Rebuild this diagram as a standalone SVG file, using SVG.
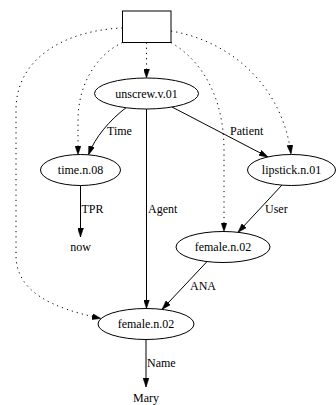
<svg xmlns="http://www.w3.org/2000/svg" width="336" height="405" viewBox="0 0 336 405">
  <style>
    .node { fill: #ffffff; stroke: #000000; stroke-width: 1; }
    .label { font-family: "Liberation Serif", "Times New Roman", serif; font-size: 12px; fill: #000000; }
    .center { text-anchor: middle; }
    .edge { fill: none; stroke: #000000; stroke-width: 1; marker-end: url(#arrow); }
    .dotted { stroke-dasharray: 1.2 4; }
  </style>
  <defs>
    <marker id="arrow" markerUnits="userSpaceOnUse" viewBox="0 0 9 6" refX="9" refY="3" markerWidth="9" markerHeight="6" orient="auto">
      <path d="M0,0 L9,3 L0,6 z" fill="#000000" stroke="#000000" stroke-width="0.5"/>
    </marker>
  </defs>
  <rect width="336" height="405" fill="#ffffff"/>

  <!-- connectors -->
  <g id="edges">
    <path class="edge dotted" d="M146.5,42.5 L146.5,78"/>
    <path class="edge dotted" d="M122.5,42.5 C96,55 78,85 78,120 L78,154.7"/>
    <path class="edge dotted" d="M171,42.5 C204,62 224,100 224,150 L224,231.5"/>
    <path class="edge dotted" d="M171,31 C235,42 283,90 291,154"/>
    <path class="edge dotted" d="M122.5,28 C70,30 16,55 16,110 L16,255 C16,292 52,308 101,318.5"/>

    <path class="edge" d="M126,107.7 C110,120 95,137 88.5,154.8"/>
    <path class="edge" d="M172,107 L268,157"/>
    <path class="edge" d="M146.5,109 L146.5,308.5"/>
    <path class="edge" d="M282,185 L238,232.3"/>
    <path class="edge" d="M207,261.6 L162,309.4"/>
    <path class="edge" d="M80.5,185.5 L80.5,237"/>
    <path class="edge" d="M146,339.5 L146,387"/>

    <text class="label" x="107" y="134.5">Time</text>
    <text class="label" x="230" y="134.5">Patient</text>
    <text class="label" x="148" y="212.5">Agent</text>
    <text class="label" x="81.5" y="212.5">TPR</text>
    <text class="label" x="265" y="212.5">User</text>
    <text class="label" x="190" y="289.5">ANA</text>
    <text class="label" x="147" y="367">Name</text>
  </g>

  <!-- nodes -->
  <g id="root">
    <rect class="node" x="122.5" y="11" width="48.5" height="31.5"/>
  </g>
  <g id="unscrew">
    <ellipse class="node" cx="146.5" cy="93.5" rx="52" ry="15.5"/>
    <text class="label center" x="146.5" y="97.5">unscrew.v.01</text>
  </g>
  <g id="time">
    <ellipse class="node" cx="80.5" cy="170" rx="40" ry="15.5"/>
    <text class="label center" x="80.5" y="174">time.n.08</text>
  </g>
  <g id="lipstick">
    <ellipse class="node" cx="291.5" cy="170" rx="44" ry="15.5"/>
    <text class="label center" x="291.5" y="174">lipstick.n.01</text>
  </g>
  <g id="now">
    <text class="label center" x="80.5" y="251">now</text>
  </g>
  <g id="female1">
    <ellipse class="node" cx="223" cy="247" rx="47" ry="15.5"/>
    <text class="label center" x="223" y="251">female.n.02</text>
  </g>
  <g id="female2">
    <ellipse class="node" cx="146" cy="324" rx="48" ry="15.5"/>
    <text class="label center" x="146" y="328">female.n.02</text>
  </g>
  <g id="mary">
    <text class="label center" x="146" y="402">Mary</text>
  </g>
</svg>
